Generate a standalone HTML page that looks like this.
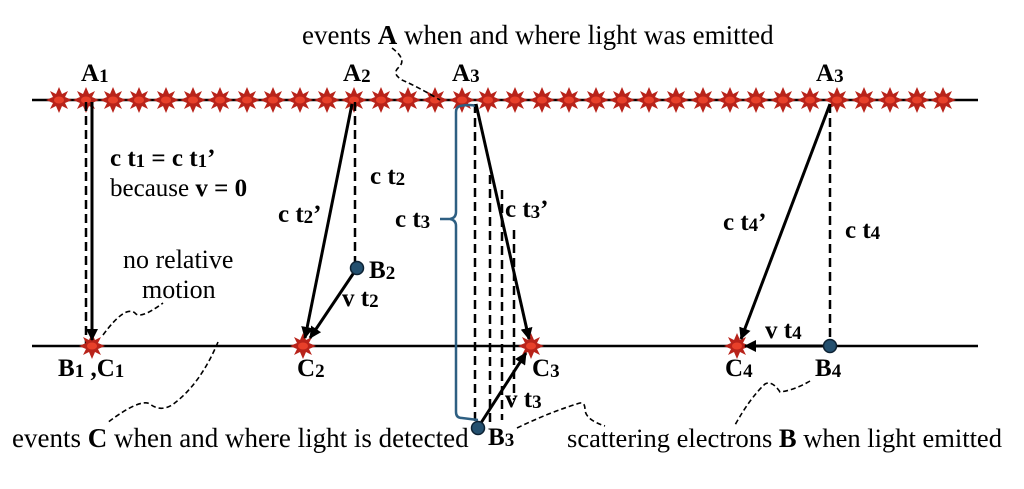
<!DOCTYPE html>
<html><head><meta charset="utf-8"><style>
html,body{margin:0;padding:0;background:#fff;}
svg{display:block;font-family:"Liberation Serif",serif;}
.b{font-weight:bold;font-size:25px;}
.n{font-size:26px;}
</style></head><body>
<svg width="1024" height="489" viewBox="0 0 1024 489" xmlns="http://www.w3.org/2000/svg">
<defs>
<g id="st">
<polygon points="0,-13 3,-6 9,-9 6,-3 13,0 6,3 9,9 3,6 0,13 -3,6 -9,9 -6,3 -13,0 -6,-3 -9,-9 -3,-6" fill="#b8231a"/>
<ellipse cx="0" cy="0" rx="5" ry="3.5" fill="#e8402a"/>
</g>
<marker id="ar" markerWidth="12" markerHeight="12" refX="11" refY="6" orient="auto" markerUnits="userSpaceOnUse">
<path d="M0,0 L12,6 L0,12 Z" fill="#000"/>
</marker>
</defs>
<line x1="32" y1="100" x2="978" y2="100" stroke="#000" stroke-width="2.5"/>
<line x1="32" y1="346" x2="978" y2="346" stroke="#000" stroke-width="2.5"/>
<g>
<use href="#st" x="59" y="100"/><use href="#st" x="86" y="100"/><use href="#st" x="113" y="100"/><use href="#st" x="139" y="100"/><use href="#st" x="166" y="100"/><use href="#st" x="193" y="100"/><use href="#st" x="220" y="100"/><use href="#st" x="247" y="100"/><use href="#st" x="273" y="100"/><use href="#st" x="300" y="100"/><use href="#st" x="327" y="100"/><use href="#st" x="354" y="100"/><use href="#st" x="381" y="100"/><use href="#st" x="408" y="100"/><use href="#st" x="435" y="100"/><use href="#st" x="462" y="100"/><use href="#st" x="488" y="100"/><use href="#st" x="515" y="100"/><use href="#st" x="542" y="100"/><use href="#st" x="569" y="100"/><use href="#st" x="596" y="100"/><use href="#st" x="622" y="100"/><use href="#st" x="649" y="100"/><use href="#st" x="676" y="100"/><use href="#st" x="703" y="100"/><use href="#st" x="730" y="100"/><use href="#st" x="756" y="100"/><use href="#st" x="783" y="100"/><use href="#st" x="810" y="100"/><use href="#st" x="837" y="100"/><use href="#st" x="864" y="100"/><use href="#st" x="890" y="100"/><use href="#st" x="917" y="100"/><use href="#st" x="943" y="100"/>
</g>
<g stroke="#000" stroke-width="2.5" stroke-dasharray="9,5" fill="none">
<line x1="86" y1="102" x2="86" y2="346"/>
<line x1="355" y1="102" x2="355" y2="262"/>
<line x1="475" y1="104" x2="475" y2="422"/>
<line x1="490" y1="175" x2="490" y2="425"/>
<line x1="502" y1="190" x2="502" y2="420"/>
<line x1="514" y1="230" x2="514" y2="400"/>
<line x1="830" y1="104" x2="830" y2="340"/>
</g>
<path d="M476,106 Q470,104 460,106 Q456,107 456,112 L456,212 Q456,218 450,219 L440,219 M450,219 Q456,220 456,226 L456,412 Q456,418 462,418 L478,420" stroke="#2e5f82" stroke-width="2.5" fill="none"/>
<use href="#st" x="92" y="346"/><use href="#st" x="303" y="346"/><use href="#st" x="531" y="346"/><use href="#st" x="737" y="346"/>
<g stroke="#000" stroke-width="3" fill="none" marker-end="url(#ar)">
<line x1="92" y1="102" x2="92" y2="340"/>
<line x1="352" y1="104" x2="305" y2="338"/>
<line x1="357" y1="268" x2="310" y2="338"/>
<line x1="476" y1="104" x2="529" y2="339"/>
<line x1="479" y1="426" x2="526" y2="353"/>
<line x1="830" y1="104" x2="741" y2="339"/>
<line x1="826" y1="346" x2="745" y2="346"/>
</g>
<circle cx="357" cy="268" r="6.5" fill="#24506f" stroke="#0d2233" stroke-width="1.5"/>
<circle cx="478" cy="428" r="6.5" fill="#24506f" stroke="#0d2233" stroke-width="1.5"/>
<circle cx="830" cy="346" r="6.5" fill="#24506f" stroke="#0d2233" stroke-width="1.5"/>
<g stroke="#000" stroke-width="1.6" stroke-dasharray="5,3" fill="none">
<path d="M392,48 Q408,60 398,68 Q392,74 402,80 Q420,88 440,100"/>
<path d="M103,335 Q125,305 135,313 Q140,320 163,303"/>
<path d="M218,342 Q200,385 172,405 Q160,412 150,404 Q140,398 107,423"/>
<path d="M517,428 Q550,412 580,403 Q585,402 585,410 Q586,420 605,426"/>
<path d="M810,381 Q795,390 780,392 Q772,380 765,384 Q750,398 735,425"/>
</g>
<text x="302" y="44" class="n" style="font-size:27px">events <tspan font-weight="bold">A</tspan> when and where light was emitted</text>
<text x="12" y="447" class="n" style="font-size:27px">events <tspan font-weight="bold">C</tspan> when and where light is detected</text>
<text x="567" y="447" class="n" style="font-size:26.5px">scattering electrons <tspan font-weight="bold">B</tspan> when light emitted</text>
<text x="123" y="268" class="n">no relative</text>
<text x="142" y="298" class="n">motion</text>
<g class="b">
<text x="81" y="81">A<tspan font-size="19" dy="1">1</tspan></text>
<text x="343" y="81">A<tspan font-size="19" dy="1">2</tspan></text>
<text x="452" y="81">A<tspan font-size="19" dy="1">3</tspan></text>
<text x="816" y="81">A<tspan font-size="19" dy="1">3</tspan></text>
<text x="110" y="166">c t<tspan font-size="19" dy="1">1</tspan><tspan dy="-1"> = c t</tspan><tspan font-size="19" dy="1">1</tspan><tspan dy="-1">’</tspan></text>
<text x="110" y="196"><tspan font-weight="normal">because</tspan> v = 0</text>
<text x="370" y="184">c t<tspan font-size="19" dy="1">2</tspan></text>
<text x="278" y="222">c t<tspan font-size="19" dy="1">2</tspan><tspan dy="-1">’</tspan></text>
<text x="395" y="227">c t<tspan font-size="19" dy="1">3</tspan></text>
<text x="505" y="217">c t<tspan font-size="19" dy="1">3</tspan><tspan dy="-1">’</tspan></text>
<text x="723" y="230">c t<tspan font-size="19" dy="1">4</tspan><tspan dy="-1">’</tspan></text>
<text x="845" y="238">c t<tspan font-size="19" dy="1">4</tspan></text>
<text x="369" y="278">B<tspan font-size="19" dy="1">2</tspan></text>
<text x="342" y="306">v t<tspan font-size="19" dy="1">2</tspan></text>
<text x="765" y="338">v t<tspan font-size="19" dy="1">4</tspan></text>
<text x="505" y="407">v t<tspan font-size="19" dy="1">3</tspan></text>
<text x="58" y="376">B<tspan font-size="19" dy="1">1</tspan><tspan dy="-1"> ,C</tspan><tspan font-size="19" dy="1">1</tspan></text>
<text x="297" y="376">C<tspan font-size="19" dy="1">2</tspan></text>
<text x="532" y="376">C<tspan font-size="19" dy="1">3</tspan></text>
<text x="725" y="376">C<tspan font-size="19" dy="1">4</tspan></text>
<text x="815" y="376">B<tspan font-size="19" dy="1">4</tspan></text>
<text x="488" y="445">B<tspan font-size="19" dy="1">3</tspan></text>
</g>
</svg>
</body></html>
